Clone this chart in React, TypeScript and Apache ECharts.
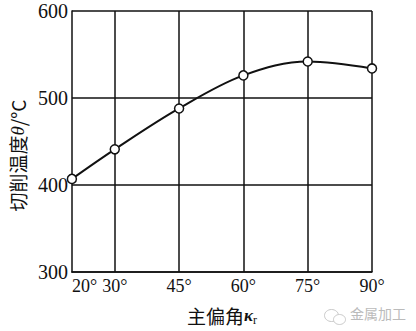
import React, { useEffect, useRef } from "react";
import * as echarts from "echarts";

const angles = [20, 30, 45, 60, 75, 90];
const temps = [407, 441, 488, 526, 542, 534];
const xTickLabels = [20, 30, 45, 60, 75, 90];
const verticalLines = [30, 45, 60, 75, 90];
const yTicks = [300, 400, 500, 600];

export default function App() {
  const ref = useRef<HTMLDivElement>(null);
  useEffect(() => {
    if (!ref.current) return;
    const chart = echarts.init(ref.current, null, { renderer: "svg" });
    const serif = "Liberation Serif";
    const cjk = "Noto Sans CJK SC";
    chart.setOption({
      animation: false,
      backgroundColor: "#ffffff",
      grid: { left: 70, right: 44, top: 11, bottom: 55 },
      xAxis: {
        type: "value",
        min: 20,
        max: 90,
        interval: 5,
        name: "主偏角{k|κ}{r|r}",
        nameLocation: "middle",
        nameGap: 32,
        nameTextStyle: {
          fontFamily: cjk,
          fontSize: 19,
          color: "#111",
          rich: {
            k: { fontFamily: serif, fontStyle: "italic", fontWeight: "bold", fontSize: 17, color: "#111" },
            r: { fontFamily: serif, fontSize: 12, color: "#111", padding: [10, 0, 0, 0] },
          },
        },
        axisLine: { show: true, lineStyle: { color: "#111", width: 1.5 } },
        axisTick: { show: false },
        splitLine: { show: false },
        axisLabel: {
          margin: 5,
          fontFamily: serif,
          fontSize: 18,
          color: "#111",
          alignMinLabel: "left",
          formatter: (v: number) => (xTickLabels.includes(v) ? v + "°" : ""),
        },
      },
      yAxis: {
        type: "value",
        min: yTicks[0],
        max: yTicks[yTicks.length - 1],
        interval: 100,
        name: "切削温度{t|θ}/°C",
        nameLocation: "middle",
        nameRotate: 90,
        nameGap: 43,
        nameTextStyle: {
          fontFamily: cjk,
          fontSize: 19,
          color: "#111",
          padding: [0, 28, 0, 0],
          rich: {
            t: { fontFamily: serif, fontStyle: "italic", fontSize: 19, color: "#111" },
          },
        },
        axisLine: { show: true, lineStyle: { color: "#111", width: 1.5 } },
        axisTick: { show: false },
        splitLine: { show: true, lineStyle: { color: "#111", width: 1.5 } },
        axisLabel: { margin: 4, fontFamily: serif, fontSize: 20, color: "#111" },
      },
      series: [
        {
          type: "line",
          data: angles.map((a, i) => [a, temps[i]]),
          smooth: 0.35,
          symbol: "circle",
          symbolSize: 9,
          itemStyle: { color: "#ffffff", borderColor: "#111", borderWidth: 1.5 },
          lineStyle: { color: "#111", width: 2 },
          z: 5,
          markLine: {
            silent: true,
            symbol: "none",
            label: { show: false },
            lineStyle: { color: "#111", width: 1.5, type: "solid" },
            data: verticalLines.map((v) => ({ xAxis: v })),
            z: 1,
          },
        },
      ],
      graphic: [
        {
          type: "group",
          left: 322,
          top: 307,
          children: [
            { type: "ellipse", shape: { cx: 8, cy: 7, rx: 7, ry: 6 }, style: { fill: "none", stroke: "#c8c8c8", lineWidth: 1 } },
            { type: "ellipse", shape: { cx: 16, cy: 11, rx: 6, ry: 5 }, style: { fill: "#fff", stroke: "#c8c8c8", lineWidth: 1 } },
          ],
        },
        {
          type: "text",
          left: 350,
          top: 306,
          style: { text: "金属加工", fontFamily: cjk, fontSize: 14, fill: "#bbbbbb" },
        },
      ],
    });
    return () => chart.dispose();
  }, []);
  return (
    <div
      ref={ref}
      style={{ position: "fixed", left: 0, top: 0, width: 416, height: 331 }}
    />
  );
}
